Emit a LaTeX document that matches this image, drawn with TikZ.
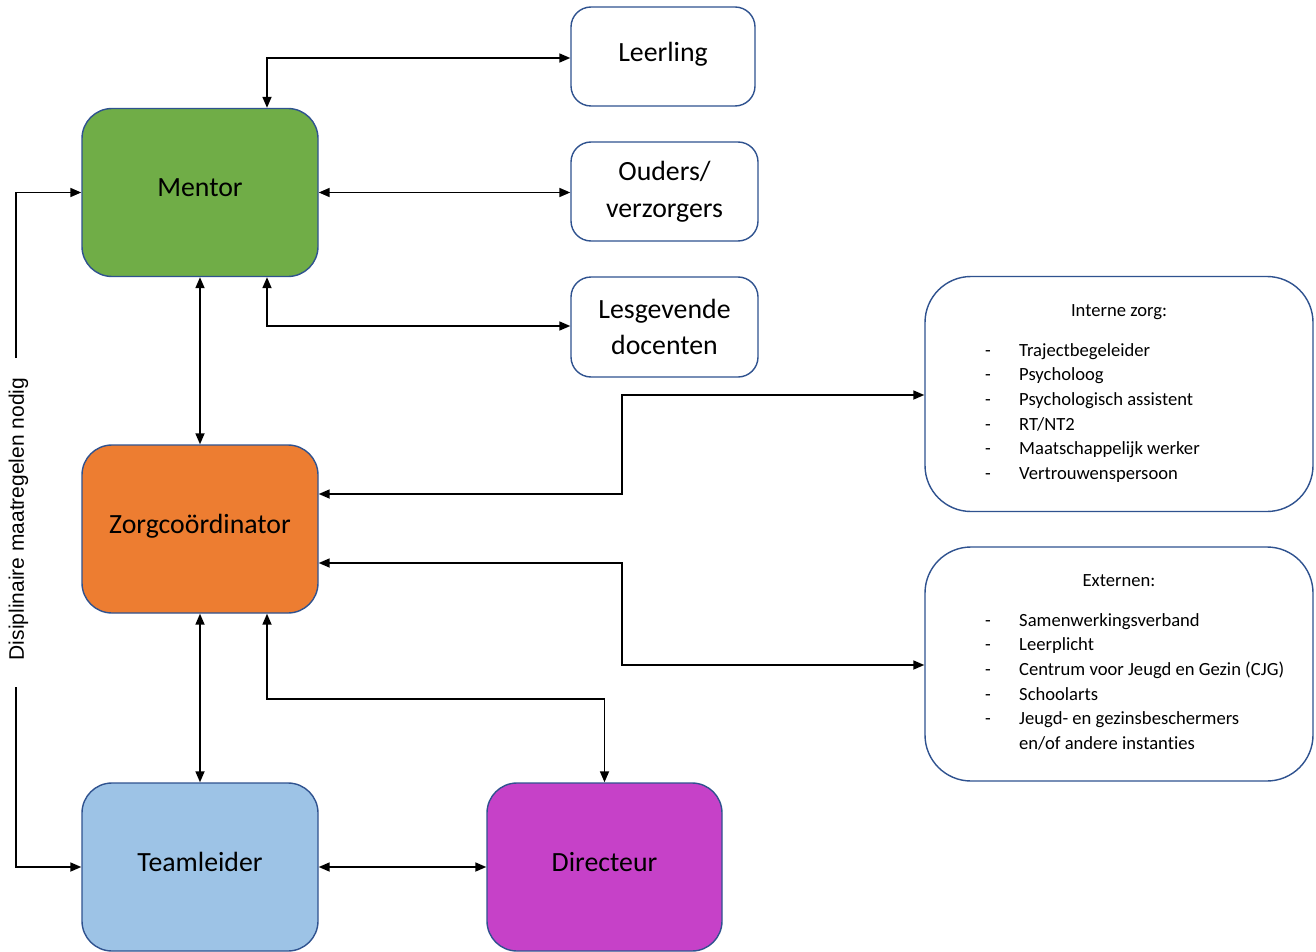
\documentclass[tikz,border=0pt]{standalone}
\usepackage{fontspec}
\setmainfont{Carlito}[Ligatures={NoCommon}]
\newfontfamily\arialf{Liberation Sans}
\usetikzlibrary{arrows.meta,calc}
\definecolor{bord}{HTML}{2F528F}
\definecolor{mgreen}{HTML}{70AD47}
\definecolor{morange}{HTML}{ED7D31}
\definecolor{mblue}{HTML}{9DC3E6}
\definecolor{mpurple}{HTML}{C641C8}
\begin{document}
\begin{tikzpicture}[x=1pt,y=-1pt,
  box/.style={draw=bord,line width=1.4pt,rounded corners=#1,inner sep=0pt,align=center,
    font=\fontsize{27.8}{36.5}\selectfont},
  box/.default=30pt,
  big/.style={box=30pt,minimum width=236pt,minimum height=168pt},
  small/.style={box=20pt,fill=white,minimum width=186pt,minimum height=99pt},
  list/.style={box=46pt,fill=white,minimum width=388pt,minimum height=235pt},
  item/.style={inner sep=0pt,font=\fontsize{18.6}{24.7}\selectfont,anchor=base west},
  dashmark/.style={inner sep=0pt,font=\fontsize{18.6}{24.7}\selectfont,anchor=base},
  ttl/.style={inner sep=0pt,font=\fontsize{18.6}{24.7}\selectfont,anchor=base},
  conn/.style={line width=1.7pt,<->,>={Triangle[length=11pt,width=9pt]}},
  oneway/.style={line width=1.7pt,->,>={Triangle[length=11pt,width=9pt]}}]
\useasboundingbox (0,0) rectangle (1316,952);
\fill[white] (0,0) rectangle (1316,952);

% main boxes
\node[big,fill=mgreen] (mentor) at (200,192.5) {\raisebox{10pt}{Mentor}};
\node[big,fill=morange] (zorg) at (200,529) {\raisebox{10pt}{Zorgcoördinator}};
\node[big,fill=mblue] (team) at (200,867) {\raisebox{10pt}{Teamleider}};
\node[big,fill=mpurple,minimum width=235pt] (dir) at (604.5,867) {\raisebox{10pt}{Directeur}};

% right small boxes
\node[small,minimum width=184pt] (leer) at (663,56.5) {\raisebox{9.5pt}{Leerling}};
\node[small,minimum width=187pt] (ouders) at (664.5,191.5) {Ouders/\\verzorgers};
\node[small,minimum width=187pt,minimum height=100pt] (les) at (664.5,327) {Lesgevende\\docenten};

% list boxes
\node[list] (int) at (1119,394) {};
\node[list,minimum height=234pt] (ext) at (1119,664) {};
\node[ttl] (intt) at (1119,316) {Interne zorg:};
\node[ttl] (extt) at (1119,586) {Externen:};

\foreach \t [count=\i] in {Trajectbegeleider,Psycholoog,Psychologisch assistent,RT/NT2,Maatschappelijk werker,Vertrouwenspersoon}{
  \node[dashmark] (intd\i) at (988,{356+24.7*(\i-1)}) {-};
  \node[item] (inti\i) at (1019,{356+24.7*(\i-1)}) {\t};
}
\foreach \t [count=\i] in {Samenwerkingsverband,Leerplicht,Centrum voor Jeugd en Gezin (CJG),Schoolarts,Jeugd- en gezinsbeschermers}{
  \node[dashmark] (extd\i) at (988,{626+24.7*(\i-1)}) {-};
  \node[item] (exti\i) at (1019,{626+24.7*(\i-1)}) {\t};
}
\node[item] (exti6) at (1019,{626+24.7*5}) {en/of andere instanties};

% connectors
\coordinate (a1) at (267,58);
\draw[conn] (mentor.north -| a1) -- (a1) -- (leer.west |- a1);
\draw[conn] (mentor.east) -- (mentor.east -| ouders.west);
\coordinate (a2) at (267,326);
\draw[conn] (mentor.south -| a2) -- (a2) -- (les.west |- a2);
\draw[conn] (mentor.south) -- (zorg.north);
\coordinate (a3) at (622,494);
\coordinate (a3b) at (622,395);
\draw[conn] (zorg.east |- a3) -- (a3) -- (a3b) -- (int.west |- a3b);
\coordinate (a4) at (622,563);
\coordinate (a4b) at (622,665);
\draw[conn] (zorg.east |- a4) -- (a4) -- (a4b) -- (ext.west |- a4b);
\draw[conn] (zorg.south) -- (team.north);
\coordinate (a5) at (267,699);
\draw[conn] (zorg.south -| a5) -- (a5) -| (dir.north);
\draw[conn] (team.east) -- (dir.west);

% left disciplinary line
\coordinate (ltop) at (16,358);
\coordinate (lbot) at (16,687);
\draw[oneway] (ltop) |- (mentor.west);
\draw[oneway] (lbot) |- (team.west);
\node[inner sep=0pt,rotate=90,font=\arialf\fontsize{21}{24}\selectfont] (disc) at (18.5,519) {Disiplinaire maatregelen nodig};
\end{tikzpicture}
\end{document}
